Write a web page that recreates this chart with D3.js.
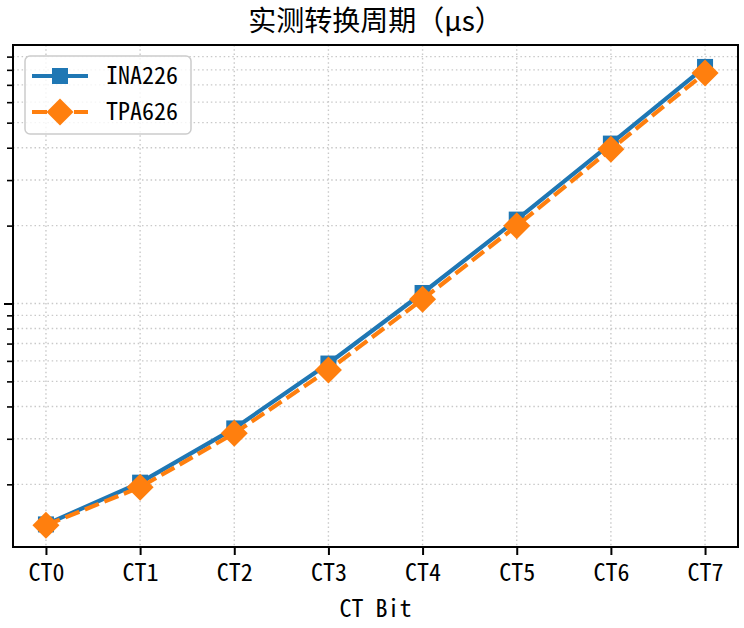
<!DOCTYPE html>
<html><head><meta charset="utf-8">
<script src="https://cdn.jsdelivr.net/npm/d3@7"></script>
<style>
html,body{margin:0;padding:0;background:#fff;}
svg{display:block;}
.lat{font-family:"Noto Sans Mono CJK SC","DejaVu Sans Mono",monospace;}
.cjk{font-family:"Noto Sans CJK SC","Noto Sans",sans-serif;}
</style></head>
<body>
<script>
const categories = ["CT0","CT1","CT2","CT3","CT4","CT5","CT6","CT7"];
const seriesNames = ["INA226","TPA626"];
const ina226 = [140, 203, 329, 586, 1098, 2110, 4150, 8210];
const tpa626 = [139, 195, 315, 553, 1038, 1998, 3945, 7780];
const yDomain = [114.5, 9980];
const yMajorTicks = [1000];
const yMinorTicks = [200,300,400,500,600,700,800,900,2000,3000,4000,5000,6000,7000,8000,9000];
const titleText = "实测转换周期（μs）";
const xLabel = "CT Bit";

const W = 744, H = 628;
const L = 13, R = 738, T = 45, B = 547;
const svg = d3.select("body").append("svg").attr("width", W).attr("height", H);

const x = d3.scaleLinear().domain([-0.35, categories.length - 1 + 0.35]).range([L, R]);
const y = d3.scaleLog().domain(yDomain).range([B, T]);

const colors = ["#1f77b4", "#ff7f0e"];
const gridColor = "#c9c9c9";
const LW = 4.2, DASH = "15,6";

// grid
const g = svg.append("g");
yMajorTicks.concat(yMinorTicks).forEach(v => {
  g.append("line").attr("x1", L).attr("x2", R).attr("y1", y(v)).attr("y2", y(v))
    .attr("stroke", gridColor).attr("stroke-width", 1.4).attr("stroke-dasharray", "1.5,2.8");
});
categories.forEach((c, i) => {
  g.append("line").attr("x1", x(i)).attr("x2", x(i)).attr("y1", T).attr("y2", B)
    .attr("stroke", gridColor).attr("stroke-width", 1.4).attr("stroke-dasharray", "1.5,2.8");
});

// axes ticks
const yAxisMajor = d3.axisLeft(y).tickValues(yMajorTicks).tickSize(9).tickFormat("");
const yAxisMinor = d3.axisLeft(y).tickValues(yMinorTicks).tickSize(6).tickFormat("");
svg.append("g").attr("transform", `translate(${L},0)`).call(yAxisMajor)
  .call(s => s.select(".domain").remove()).selectAll("line").attr("stroke", "#000").attr("stroke-width", 2);
svg.append("g").attr("transform", `translate(${L},0)`).call(yAxisMinor)
  .call(s => s.select(".domain").remove()).selectAll("line").attr("stroke", "#000").attr("stroke-width", 1.6);

const xAxis = d3.axisBottom(x).tickValues(d3.range(categories.length)).tickSize(8)
  .tickFormat(i => categories[i]).tickPadding(9);
const xg = svg.append("g").attr("transform", `translate(0,${B})`).call(xAxis);
xg.select(".domain").remove();
xg.selectAll("line").attr("stroke", "#000").attr("stroke-width", 2);
xg.selectAll("text").attr("class", "lat").attr("font-size", 24).attr("fill", "#000");

// lines
const line = d3.line().x((d, i) => x(i)).y(d => y(d));

svg.append("path").datum(ina226).attr("d", line).attr("fill", "none")
  .attr("stroke", colors[0]).attr("stroke-width", LW);
svg.selectAll(".sq").data(ina226).enter().append("rect")
  .attr("x", (d, i) => x(i) - 8).attr("y", d => y(d) - 8)
  .attr("width", 16).attr("height", 16).attr("fill", colors[0]);

svg.append("path").datum(tpa626).attr("d", line).attr("fill", "none")
  .attr("stroke", colors[1]).attr("stroke-width", LW).attr("stroke-dasharray", DASH);
const dia = r => `M0,${-r}L${r},0L0,${r}L${-r},0Z`;
svg.selectAll(".dm").data(tpa626).enter().append("path")
  .attr("transform", (d, i) => `translate(${x(i)},${y(d)})`)
  .attr("d", dia(13.5)).attr("fill", colors[1]);

// frame
svg.append("rect").attr("x", L).attr("y", T).attr("width", R - L).attr("height", B - T)
  .attr("fill", "none").attr("stroke", "#000").attr("stroke-width", 2);

// title & labels
svg.append("text").attr("class", "cjk").attr("x", (L + R) / 2).attr("y", 31)
  .attr("text-anchor", "middle").attr("font-size", 28).attr("fill", "#000").text(titleText);
svg.append("text").attr("class", "lat").attr("x", (L + R) / 2).attr("y", 617)
  .attr("text-anchor", "middle").attr("font-size", 24).attr("fill", "#000").text(xLabel);

// legend
const lg = svg.append("g");
lg.append("rect").attr("x", 25).attr("y", 56).attr("width", 166).attr("height", 78)
  .attr("rx", 5).attr("fill", "#fff").attr("fill-opacity", 0.8).attr("stroke", "#cccccc").attr("stroke-width", 1.5);
seriesNames.forEach((n, k) => {
  const yy = 76 + k * 36;
  lg.append("line").attr("x1", 32).attr("x2", 88).attr("y1", yy).attr("y2", yy)
    .attr("stroke", colors[k]).attr("stroke-width", LW)
    .attr("stroke-dasharray", k === 1 ? DASH : null);
  if (k === 0) {
    lg.append("rect").attr("x", 52).attr("y", yy - 8).attr("width", 16).attr("height", 16).attr("fill", colors[0]);
  } else {
    lg.append("path").attr("transform", `translate(60,${yy})`).attr("d", dia(13.5)).attr("fill", colors[1]);
  }
  lg.append("text").attr("class", "lat").attr("x", 106).attr("y", yy + 8)
    .attr("font-size", 24).attr("fill", "#000").text(n);
});
</script>
</body></html>
